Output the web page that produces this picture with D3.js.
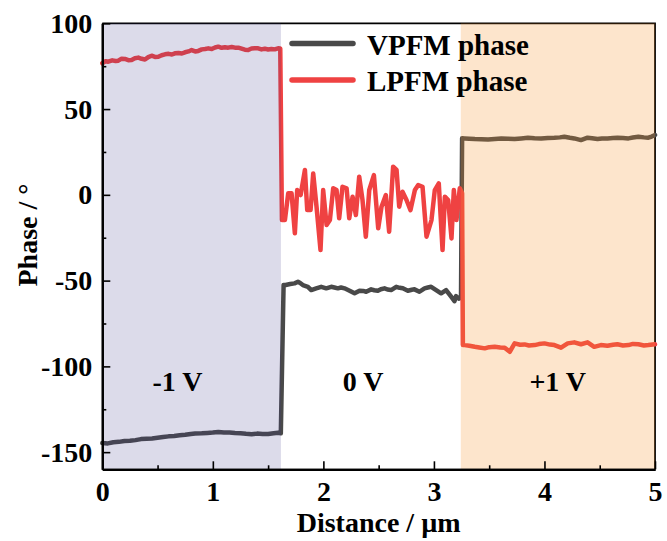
<!DOCTYPE html>
<html>
<head>
<meta charset="utf-8">
<script src="https://cdn.jsdelivr.net/npm/d3@7"></script>
<style>
  html, body { margin: 0; padding: 0; background: #fff; }
  svg text { font-family: "Liberation Serif", "Times New Roman", serif; font-weight: bold; fill: #000; }
</style>
</head>
<body>
<svg id="chart" width="667" height="541"></svg>
<script>
// ---------- data ----------
const seriesNames = ["VPFM phase", "LPFM phase"];
const seriesColors = ["#494949", "#ef4242"];

const vpfmX = [0, 0.05, 0.1, 0.15, 0.2, 0.25, 0.3, 0.35, 0.4, 0.45, 0.5, 0.55, 0.6, 0.65, 0.7, 0.75, 0.8, 0.84, 0.9, 0.95, 1.0, 1.05, 1.1, 1.15, 1.2, 1.25, 1.3, 1.35, 1.4, 1.45, 1.5, 1.55, 1.59, 1.615,
  1.64, 1.658, 1.70, 1.739, 1.770, 1.79, 1.814, 1.860, 1.890, 1.935, 1.980, 2.026, 2.071, 2.10, 2.131, 2.16, 2.191, 2.237, 2.282, 2.327, 2.36, 2.387, 2.432, 2.46, 2.493, 2.52, 2.553, 2.58, 2.613, 2.659, 2.69, 2.719, 2.764, 2.80, 2.824, 2.869, 2.915, 2.945, 2.975, 3.020, 3.065, 3.110, 3.156, 3.186, 3.20, 3.225, 3.245,
  3.255, 3.28, 3.32, 3.37, 3.43, 3.49, 3.55, 3.61, 3.67, 3.73, 3.79, 3.85, 3.91, 3.97, 4.03, 4.09, 4.14, 4.18, 4.23, 4.27, 4.33, 4.39, 4.43, 4.48, 4.52, 4.57, 4.62, 4.66, 4.71, 4.76, 4.80, 4.85, 4.90, 4.94, 4.97, 5.0];
const vpfmY = [-144.7, -144.9, -144.2, -144.0, -143.5, -143.4, -143.0, -142.4, -142.2, -142.0, -141.6, -141.2, -140.8, -140.6, -140.2, -139.9, -139.4, -139.1, -139.0, -138.8, -138.6, -138.2, -138.5, -138.6, -138.9, -139.0, -139.3, -139.5, -139.2, -139.4, -139.4, -139.0, -138.7, -139.0,
  -52.5, -52.6, -52.0, -51.6, -50.7, -51.4, -52.6, -53.6, -55.5, -54.5, -53.6, -54.5, -53.6, -54.0, -54.5, -54.0, -54.5, -55.9, -57.4, -55.9, -56.0, -56.5, -55.1, -55.6, -55.9, -55.0, -54.5, -55.2, -55.5, -53.6, -54.2, -54.5, -55.9, -55.3, -55.1, -56.5, -54.5, -54.0, -53.6, -55.5, -57.4, -55.5, -59.4, -62.0, -59.0, -60.5, -60.0,
  33.0, 32.9, 32.7, 32.5, 32.4, 32.3, 32.6, 32.9, 32.7, 32.5, 32.9, 33.3, 33.0, 32.9, 33.2, 33.3, 33.5, 33.9, 33.3, 32.9, 31.9, 33.3, 33.0, 32.5, 32.8, 32.9, 33.2, 33.3, 33.1, 32.9, 33.4, 33.9, 33.5, 33.3, 34.0, 34.9];

const lpfmX = [0, 0.03, 0.054, 0.09, 0.12, 0.145, 0.175, 0.205, 0.235, 0.265, 0.295, 0.326, 0.356, 0.386, 0.416, 0.446, 0.476, 0.507, 0.537, 0.567, 0.6, 0.63, 0.657, 0.69, 0.72, 0.748, 0.78, 0.808, 0.84, 0.868, 0.9, 0.93, 0.959, 0.99, 1.02, 1.049, 1.08, 1.11, 1.139, 1.17, 1.2, 1.23, 1.26, 1.29, 1.32, 1.35, 1.38, 1.41, 1.44, 1.47, 1.5, 1.53, 1.56, 1.59, 1.61,
  1.625, 1.652, 1.682, 1.712, 1.742, 1.763, 1.794, 1.833, 1.854, 1.884, 1.908, 1.938, 1.974, 1.998, 2.029, 2.059, 2.089, 2.119, 2.143, 2.173, 2.210, 2.234, 2.264, 2.294, 2.324, 2.354, 2.384, 2.415, 2.457, 2.496, 2.526, 2.565, 2.595, 2.631, 2.662, 2.686, 2.716, 2.752, 2.788, 2.828, 2.858, 2.897, 2.933, 2.978, 3.008, 3.044, 3.078, 3.099, 3.129, 3.159, 3.180, 3.204, 3.234, 3.255,
  3.262, 3.279, 3.32, 3.37, 3.41, 3.46, 3.50, 3.55, 3.60, 3.64, 3.686, 3.73, 3.78, 3.82, 3.86, 3.91, 3.95, 4.00, 4.05, 4.09, 4.15, 4.21, 4.27, 4.33, 4.39, 4.45, 4.51, 4.57, 4.62, 4.66, 4.71, 4.76, 4.80, 4.85, 4.90, 4.94, 5.0];
const lpfmY = [76.7, 77.9, 77.6, 78.4, 78.0, 78.2, 79.4, 79.2, 78.5, 78.6, 79.6, 80.0, 79.3, 78.9, 80.3, 81.1, 80.4, 80.5, 81.4, 81.9, 82.2, 81.8, 82.5, 82.7, 82.4, 83.1, 83.6, 84.4, 83.6, 83.9, 84.8, 85.0, 85.4, 85.0, 85.9, 86.4, 85.7, 86.0, 85.8, 86.2, 85.8, 85.8, 85.2, 84.6, 84.4, 85.3, 85.4, 85.4, 84.8, 85.2, 84.7, 85.0, 84.8, 85.4, 85.3,
  -14.7, -14.7, 0.9, 0.9, -22.4, 2.8, -0.1, 14.5, -8.9, -8.9, 12.5, -6.9, -32.2, 2.8, -17.6, -14.7, 3.8, 2.8, -13.7, 4.7, 3.8, -13.7, -1.1, -11.8, 10.6, -3.0, -24.4, 2.8, 11.5, -19.5, -6.9, -0.1, -21.5, 16.4, 14.5, -6.9, 1.8, -3.0, -8.9, 2.8, 5.7, 4.7, -24.4, -14.7, 2.8, 6.7, -32.2, -1.1, -3.0, -25.4, 2.8, -14.7, 3.8, 1.0,
  -87.6, -87.6, -88.0, -88.6, -89.0, -89.5, -88.8, -88.6, -89.0, -89.1, -91.5, -86.6, -87.4, -87.2, -87.8, -87.6, -87.0, -86.6, -87.3, -87.6, -89.1, -86.6, -86.0, -87.1, -86.0, -88.6, -87.6, -88.0, -87.4, -87.1, -87.8, -87.6, -86.9, -87.1, -87.8, -87.6, -87.1];

const regionStart = [0, 1.616, 3.243];
const regionEnd = [1.616, 3.243, 5];
const regionLabels = ["-1 V", "0 V", "+1 V"];
const regionFills = ["rgb(60,55,138)", "none", "rgb(247,147,43)"];
const regionOpacity = [0.18, 0, 0.24];

const xTicks = [0, 1, 2, 3, 4, 5];
const xMinorTicks = [0.5, 1.5, 2.5, 3.5, 4.5];
const yTicks = [-150, -100, -50, 0, 50, 100];
const yMinorTicks = [-125, -75, -25, 25, 75];
const xTitle = "Distance / µm";
const yTitle = "Phase / °";

// ---------- layout ----------
const svg = d3.select("#chart");
const mLeft = 102.3, mRight = 655, mTop = 23.3, mBottom = 469.3;
const x = d3.scaleLinear().domain([0, 5]).range([mLeft, mRight]);
const y = d3.scaleLinear().domain([-160, 100]).range([mBottom, mTop]);

// top/right frame
svg.append("path")
  .attr("d", `M${mLeft},${mTop}H${mRight}V${mBottom}`)
  .attr("fill", "none").attr("stroke", "#000").attr("stroke-width", 1.8);

// lines
const series = [
  vpfmX.map((d, i) => [d, vpfmY[i]]),
  lpfmX.map((d, i) => [d, lpfmY[i]])
];
const line = d3.line().x(d => x(d[0])).y(d => y(d[1]));
series.forEach((s, i) => {
  svg.append("path").datum(s)
    .attr("d", line)
    .attr("fill", "none")
    .attr("stroke", seriesColors[i])
    .attr("stroke-width", 4.5)
    .attr("stroke-linejoin", "round")
    .attr("stroke-linecap", "round");
});

// shaded regions (over the lines)
regionStart.forEach((s, i) => {
  if (regionFills[i] === "none") return;
  svg.append("rect")
    .attr("x", x(s)).attr("y", mTop)
    .attr("width", x(regionEnd[i]) - x(s))
    .attr("height", mBottom - mTop)
    .attr("fill", regionFills[i])
    .attr("fill-opacity", regionOpacity[i]);
});

// region labels
const labelX = [0.68, 2.36, 4.12];
regionLabels.forEach((t, i) => {
  svg.append("text")
    .attr("x", x(labelX[i])).attr("y", 391)
    .attr("text-anchor", "middle")
    .attr("font-size", 28)
    .text(t);
});

// axes
const fmt = d => String(d);
const xAxis = svg.append("g").attr("transform", `translate(0,${mBottom})`)
  .call(d3.axisBottom(x).tickValues(xTicks).tickFormat(fmt).tickSize(-8).tickSizeOuter(0).tickPadding(12));
const xAxisMinor = svg.append("g").attr("transform", `translate(0,${mBottom})`)
  .call(d3.axisBottom(x).tickValues(xMinorTicks).tickFormat("").tickSize(-4).tickSizeOuter(0));
const yAxis = svg.append("g").attr("transform", `translate(${mLeft},0)`)
  .call(d3.axisLeft(y).tickValues(yTicks).tickFormat(fmt).tickSize(-8).tickSizeOuter(0).tickPadding(10));
const yAxisMinor = svg.append("g").attr("transform", `translate(${mLeft},0)`)
  .call(d3.axisLeft(y).tickValues(yMinorTicks).tickFormat("").tickSize(-4).tickSizeOuter(0));

[xAxis, xAxisMinor, yAxis, yAxisMinor].forEach(g => {
  g.select(".domain").attr("stroke", "#000").attr("stroke-width", 2.2);
  g.selectAll(".tick line").attr("stroke", "#000").attr("stroke-width", 1.6);
  g.selectAll(".tick text")
    .attr("font-family", "Liberation Serif, Times New Roman, serif")
    .attr("font-weight", "bold")
    .attr("font-size", 28)
    .attr("fill", "#000");
});

// axis titles
svg.append("text")
  .attr("x", (mLeft + mRight) / 2).attr("y", 532)
  .attr("text-anchor", "middle").attr("font-size", 28)
  .text(xTitle);
svg.append("text")
  .attr("transform", `translate(37,235) rotate(-90)`)
  .attr("text-anchor", "middle").attr("font-size", 28)
  .text(yTitle);

// legend
const legendY = [43.5, 80];
const legendBase = [55, 91];
seriesNames.forEach((n, i) => {
  svg.append("line")
    .attr("x1", 292).attr("x2", 353)
    .attr("y1", legendY[i]).attr("y2", legendY[i])
    .attr("stroke", seriesColors[i]).attr("stroke-width", 5.5)
    .attr("stroke-linecap", "round");
  svg.append("text")
    .attr("x", 367).attr("y", legendBase[i])
    .attr("font-size", 29)
    .text(n);
});
</script>
</body>
</html>
